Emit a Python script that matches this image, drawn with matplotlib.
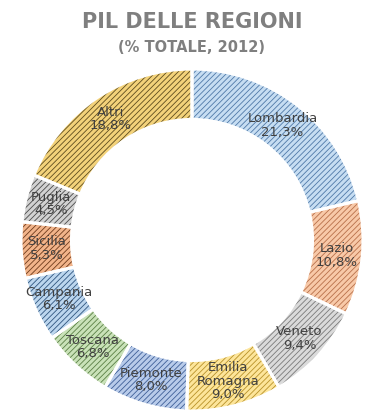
import numpy as np
import matplotlib.pyplot as plt

regions = ["Lombardia", "Lazio", "Veneto", "Emilia\nRomagna", "Piemonte",
           "Toscana", "Campania", "Sicilia", "Puglia", "Altri"]
shares = [21.3, 10.8, 9.4, 9.0, 8.0, 6.8, 6.1, 5.3, 4.5, 18.8]
labels = ["21,3%", "10,8%", "9,4%", "9,0%", "8,0%",
          "6,8%", "6,1%", "5,3%", "4,5%", "18,8%"]

face_colors = ["#c6ddf2", "#f8c9a8", "#dadada", "#fde59a", "#b8cbea",
               "#c9e2b8", "#bcd6ee", "#f2b48a", "#d2d2d2", "#f3d27a"]
hatch_colors = ["#4f79a8", "#b8704a", "#7a7a7a", "#b8922a", "#3f5f98",
                "#5a7f45", "#2f557f", "#6e3b1c", "#4a4a4a", "#5e4c1e"]


def main():
    plt.rcParams["hatch.linewidth"] = 0.6
    fig = plt.figure(figsize=(3.8, 4.12), dpi=100)
    ax = fig.add_axes([0, 0, 1, 1])

    width = 0.295
    wedges, _ = ax.pie(shares, startangle=90, counterclock=False,
                       radius=1.0, wedgeprops=dict(width=width, linewidth=0))
    for w, fc, hc in zip(wedges, face_colors, hatch_colors):
        w.set_facecolor(fc)
        w.set_edgecolor(hc)
        w.set_hatch("//////")
        w.set_linewidth(0)

    # white separators on top
    ax.pie(shares, startangle=90, counterclock=False, radius=1.0,
           wedgeprops=dict(width=width, linewidth=2.2,
                           edgecolor="white", fill=False))

    total = sum(shares)
    start = 90.0
    r_lab = 1.0 - width / 2
    for name, val, lab in zip(regions, shares, labels):
        mid = start - val / total * 360 / 2
        start -= val / total * 360
        x = r_lab * np.cos(np.radians(mid))
        y = r_lab * np.sin(np.radians(mid))
        ax.text(x, y, f"{name}\n{lab}", ha="center", va="center",
                fontsize=9.5, color="#404040", linespacing=1.05)

    # pie centre sits at (192, 240) px, outer radius 171 px
    r_px = 171.0
    cx, cy = 192.0, 240.0
    ax.set_xlim(-cx / r_px, (380 - cx) / r_px)
    ax.set_ylim(-(412 - cy) / r_px, cy / r_px)
    ax.axis("off")

    fig.text(0.505, 1 - 22 / 412, "PIL DELLE REGIONI", ha="center",
             va="center", fontsize=15, fontweight="bold", color="#7f7f7f")
    fig.text(0.505, 1 - 47 / 412, "(% TOTALE, 2012)", ha="center",
             va="center", fontsize=10.5, fontweight="bold", color="#7f7f7f")

    fig.savefig("out.png", dpi=100, facecolor="white")


if __name__ == "__main__":
    main()
